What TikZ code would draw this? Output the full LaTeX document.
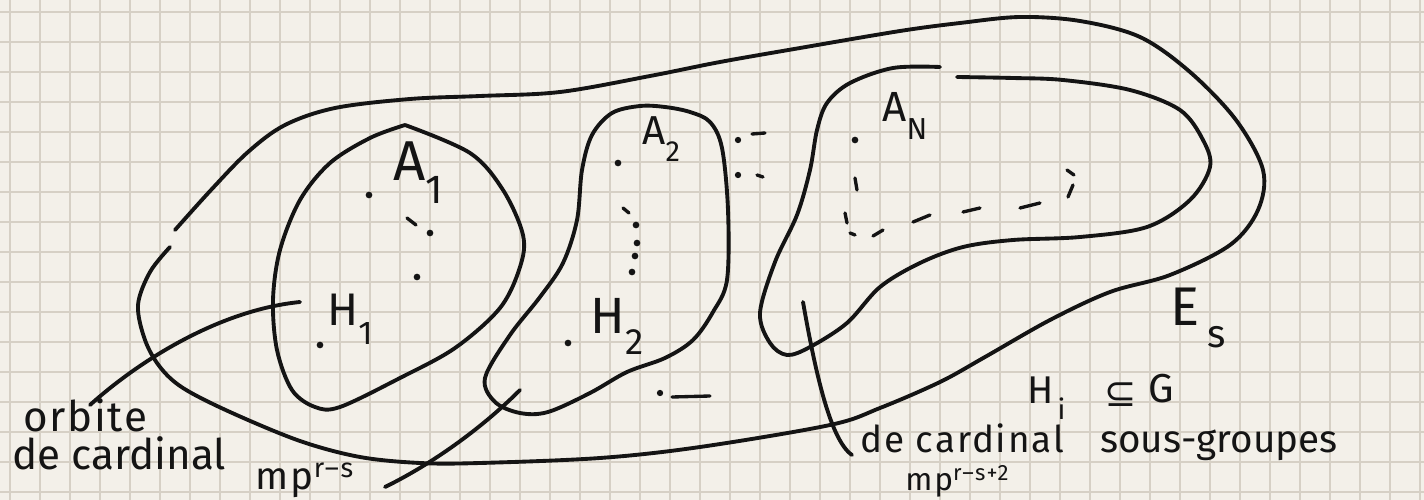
\documentclass[tikz,border=0pt]{standalone}
\usepackage{fontspec}
\setmainfont{Fira Sans}
\newfontfamily\symfont{DejaVu Sans}
\newcommand\lowidx[1]{\raisebox{-0.42em}{\scalebox{0.72}{#1}}}
\newcommand\highidx[1]{\raisebox{0.3em}{\scalebox{0.7}{#1}}}
\definecolor{paper}{RGB}{243,240,233}
\definecolor{gridline}{RGB}{214,208,197}
\definecolor{ink}{RGB}{20,20,20}
\begin{document}
\begin{tikzpicture}[x=0.02cm,y=-0.02cm,
  pen/.style={draw=ink,line width=2.2pt,line cap=round,line join=round},
  thinpen/.style={draw=ink,line width=1.9pt,line cap=round},
  gridrule/.style={draw=gridline,line width=1.1pt},
  dotmark/.style={circle,fill=ink,inner sep=0pt,minimum size=3.8pt},
  lbl/.style={inner sep=0pt,anchor=base west,text=ink},
  big/.style={lbl,font=\fontsize{#1}{#1}\selectfont},
  wide/.style 2 args={lbl,font=\fontsize{#1}{#1}\selectfont\addfontfeature{LetterSpace=#2}}]
% squared paper
\useasboundingbox (0,0) rectangle (1424,500);
\fill[paper] (0,0) rectangle (1424,500);
\foreach \x in {10,40,...,1420} \draw[gridrule] (\x,0) -- (\x,500);
\foreach \y in {12,42,...,492} \draw[gridrule] (0,\y) -- (1424,\y);

% E_s : the big outer loop (open at the left)
\draw[pen] plot[smooth,tension=0.55] coordinates {
  (170,247) (150,272) (138,305) (145,340) (160,367) (183,388) (230,412)
  (300,441) (360,457) (420,463) (480,463) (600,458) (700,447) (830,425)
  (880,408) (940,382) (985,357) (1050,320) (1110,292) (1170,275)
  (1230,245) (1258,210) (1263,170) (1236,120) (1190,72) (1140,37)
  (1080,21) (1020,17) (960,23) (900,31) (800,48) (720,62) (650,76)
  (560,92) (480,96) (410,99) (335,108) (285,125) (248,152) (211,190)
  (175,230)};

% orbit of A_1
\draw[pen] plot[smooth,tension=0.55] coordinates {
  (405,125) (470,153) (503,190) (523,235) (520,267) (500,308) (455,348)
  (400,378) (340,407) (315,407) (292,390) (277,350) (273,300) (280,250)
  (300,200) (330,163) (370,138) (405,125)};

% orbit of A_2
\draw[pen] plot[smooth cycle,tension=0.55] coordinates {
  (640,106) (665,107) (690,112) (710,122) (722,148) (728,210) (727,280)
  (713,312) (693,340) (665,358) (627,372) (590,393) (548,412) (520,413)
  (495,402) (485,378) (510,335) (540,297) (563,263) (577,220) (582,170)
  (592,135) (612,113)};

% orbit of A_N (open at the top)
\draw[pen] plot[smooth,tension=0.55] coordinates {
  (940,67) (893,68) (850,83) (827,103) (817,130) (810,170) (797,215)
  (775,262) (760,313) (770,343) (787,355) (810,347) (847,323) (880,287)
  (920,263) (963,247) (1013,240) (1080,237) (1147,227) (1190,200)
  (1210,167) (1203,140) (1180,110) (1130,90) (1063,80) (1013,78) (957,77)};

% points of the orbits
\node[dotmark] (pA1) at (369,195) {};
\node[dotmark] (pH1) at (320,345) {};
\node[dotmark] (pA2) at (618,163) {};
\node[dotmark] (pH2) at (568,343) {};
\node[dotmark] (pAN) at (855,140) {};

% dotted paths inside the orbits
\draw[thinpen] (407,218) -- (416,225);
\node[dotmark] (d1) at (430,233) {};
\node[dotmark] (d2) at (417,277) {};
\draw[thinpen] (623,208) -- (629,213);
\foreach \p in {(636,225),(637,243),(635,256),(632,272)} \fill[ink] \p circle (1.9pt);
\draw[thinpen] (855,178) -- (857,190);
\draw[thinpen] (845,213) -- (847,223);
\draw[thinpen] (850,233) -- (855,235);
\draw[thinpen] (873,236) -- (883,230);
\draw[thinpen] (913,222) -- (930,215);
\draw[thinpen] (963,212) -- (980,208);
\draw[thinpen] (1020,208) -- (1040,203);
\draw[thinpen] (1067,170) -- (1074,175);
\draw[thinpen] (1073,185) -- (1068,197);

% further orbits
\fill[ink] (738,140) circle (1.8pt);
\draw[thinpen] (752,134) -- (765,133);
\fill[ink] (738,175) circle (1.8pt);
\draw[thinpen] (757,175) -- (763,177);
\fill[ink] (660,393) circle (1.8pt);
\draw[thinpen] (672,397) -- (710,396);

% labels of the points and of the set
\node[big=32] (lA1) at (393,180) {A\lowidx{1}};
\node[big=26] (lH1) at (327,325) {H\lowidx{1}};
\node[big=23] (lA2) at (642,145) {A\lowidx{2}};
\node[big=29] (lH2) at (590,333) {H\lowidx{2}};
\node[big=24] (lAN) at (882,122) {A\lowidx{N}};
\node[big=31] (lEs) at (1170,325) {E\hspace{0.15em}\lowidx{s}};

% subgroup note
\node[big=22] (lHi) at (1027,403) {H\hspace{0.1em}\lowidx{i}};
\node[lbl,font=\symfont\fontsize{22}{22}\selectfont] (lsub) at (1104,406) {⊆};
\node[big=23] (lG) at (1148,402) {G};
\node[big=22] (lsg) at (1100,452) {sous-groupes};

% captions
\node[wide={24}{4}] (lorb) at (23,431) {orbite};
\node[big=24] (lcard1) at (12,469) {de cardinal};
\node[wide={22}{6}] (lm1) at (255,489) {mp\highidx{r--s}};
\node[wide={21}{5}] (lcard2) at (860,452) {de cardinal};
\node[wide={18}{6}] (lm2) at (905,490) {mp\highidx{r--s+2}};

% leader lines
\coordinate (c1a) at (90,405);
\coordinate (c1b) at (300,302);
\coordinate (c2a) at (385,487);
\coordinate (c2b) at (520,390);
\coordinate (c3a) at (803,302);
\coordinate (c3b) at (852,455);
\draw[pen] (c1a) .. controls (140,360) and (220,310) .. (c1b);
\draw[pen] (c2a) .. controls (430,465) and (480,430) .. (c2b);
\draw[pen] (c3a) .. controls (815,370) and (830,440) .. (c3b);
\end{tikzpicture}
\end{document}
